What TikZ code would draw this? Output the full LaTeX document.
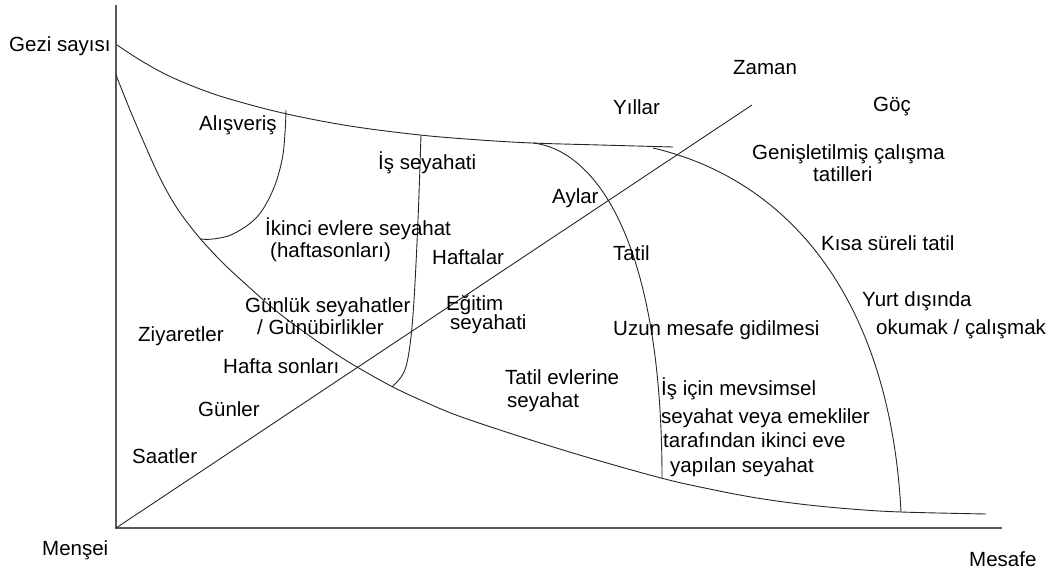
\documentclass[tikz,border=0pt]{standalone}
\usepackage{fontspec}
\setmainfont{Liberation Sans}
\tikzset{
  lbl/.style={anchor=base west, inner sep=0pt, font=\fontsize{20.5}{24}\selectfont, text=black},
  axisline/.style={draw=black!65, line width=1.3pt},
  curveline/.style={draw=black!85, line width=0.9pt},
}
\begin{document}
\begin{tikzpicture}[x=1pt,y=-1pt]
\useasboundingbox (0,0) rectangle (1051,572);
% axes
\coordinate (O) at (116,528);
\coordinate (Ytop) at (116,5);
\coordinate (Xend) at (1002,528);
\coordinate (Zend) at (752,105);
\draw[axisline] (Ytop) -- (O) -- (Xend);
% time diagonal
\draw[curveline] (O) -- (Zend);
% upper envelope
\draw[curveline] plot[smooth, tension=0.6] coordinates {(117,45) (140,60) (167,75) (200,89) (233,100) (287,114) (350,126) (420,135) (480,140) (532,143) (600,145) (673,147)};
% lower envelope
\draw[curveline] plot[smooth, tension=0.6] coordinates {(116,75) (130,110) (145,145) (160,178) (175,205) (190,226) (205,244) (225,265) (250,288) (275,310) (300,329) (330,350) (357,367) (393,387) (425,402) (456,415) (500,430) (550,446) (600,461) (661,478) (700,487) (751,497) (800,504) (851,509) (901,512) (986,514)};
% Alisveris boundary
\draw[curveline] plot[smooth, tension=0.6] coordinates {(286,110) (285,133) (282,160) (273,190) (257,217) (233,234) (213,239) (200,239)};
% Is seyahati boundary
\draw[curveline] plot[smooth, tension=0.6] coordinates {(421,135) (418,220) (414,300) (410,345) (404,372) (392,387)};
% Tatil boundary
\draw[curveline] (533,143) .. controls (595,150) and (662,240) .. (662,478);
% outer boundary
\draw[curveline] (653,148) .. controls (790,180) and (890,300) .. (901,512);
% labels
\node[lbl] (gezi) at (9,52) {Gezi sayısı};
\node[lbl] (zaman) at (733,75) {Zaman};
\node[lbl] (yillar) at (613,115) {Yıllar};
\node[lbl] (goc) at (873,112) {Göç};
\node[lbl] (alis) at (199,131) {Alışveriş};
\node[lbl] (isseyahati) at (378,170) {İş seyahati};
\node[lbl] (genis1) at (752,160) {Genişletilmiş çalışma};
\node[lbl] (genis2) at (813,182) {tatilleri};
\node[lbl] (aylar) at (552,204) {Aylar};
\node[lbl] (ikinci1) at (265,235) {İkinci evlere seyahat};
\node[lbl] (ikinci2) at (270,257) {(haftasonları)};
\node[lbl] (haftalar) at (432,264) {Haftalar};
\node[lbl] (tatil) at (613,260) {Tatil};
\node[lbl] (kisa) at (821,250) {Kısa süreli tatil};
\node[lbl] (yurt1) at (862,306) {Yurt dışında};
\node[lbl] (yurt2) at (876,334) {okumak / çalışmak};
\node[lbl] (gunluk1) at (245,312) {Günlük seyahatler};
\node[lbl] (gunluk2) at (257,334) {/ Günübirlikler};
\node[lbl] (egitim1) at (446,310) {Eğitim};
\node[lbl] (egitim2) at (450,329) {seyahati};
\node[lbl] (uzun) at (613,335) {Uzun mesafe gidilmesi};
\node[lbl] (ziyaret) at (138,341) {Ziyaretler};
\node[lbl] (haftasonu) at (223,373) {Hafta sonları};
\node[lbl] (tatilev1) at (505,384) {Tatil evlerine};
\node[lbl] (tatilev2) at (507,407) {seyahat};
\node[lbl] (mevs1) at (661,395) {İş için mevsimsel};
\node[lbl] (mevs2) at (661,423) {seyahat veya emekliler};
\node[lbl] (mevs3) at (663,447) {tarafından ikinci eve};
\node[lbl] (mevs4) at (670,472) {yapılan seyahat};
\node[lbl] (gunler) at (198,416) {Günler};
\node[lbl] (saatler) at (132,463) {Saatler};
\node[lbl] (mensei) at (42,555) {Menşei};
\node[lbl] (mesafe) at (969,566) {Mesafe};
\end{tikzpicture}
\end{document}
